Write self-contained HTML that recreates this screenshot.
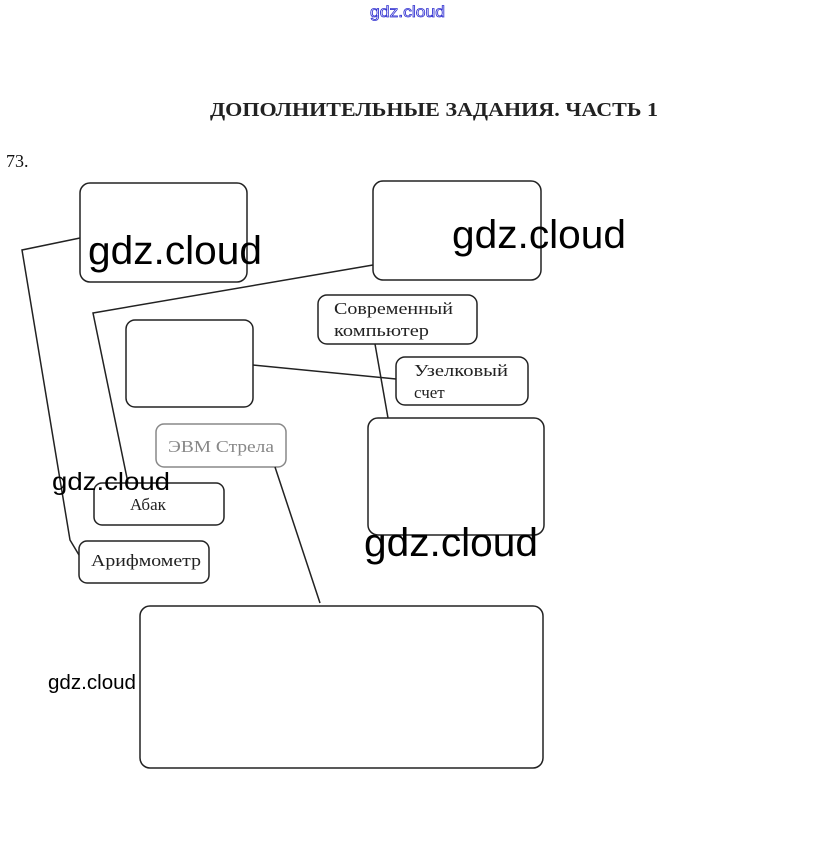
<!DOCTYPE html>
<html><head><meta charset="utf-8"><style>
body{margin:0;background:#fff;width:815px;height:865px;overflow:hidden}
svg{display:block}
</style></head><body>
<svg width="815" height="865" xmlns="http://www.w3.org/2000/svg" font-family="Liberation Serif, serif">
<text x="370" y="17" textLength="75" lengthAdjust="spacingAndGlyphs" font-family="Liberation Sans, sans-serif" font-size="16" fill="none" stroke="#3030d0" stroke-width="0.8">gdz.cloud</text>
<text x="210" y="116" textLength="448" lengthAdjust="spacingAndGlyphs" font-size="20" font-weight="bold" fill="#222">ДОПОЛНИТЕЛЬНЫЕ ЗАДАНИЯ. ЧАСТЬ 1</text>
<text x="6" y="167" font-size="18" fill="#111">73.</text>
<g fill="none" stroke="#222" stroke-width="1.5">
<rect x="80" y="183" width="167" height="99" rx="10"/>
<rect x="373" y="181" width="168" height="99" rx="10"/>
<rect x="318" y="295" width="159" height="49" rx="9"/>
<rect x="126" y="320" width="127" height="87" rx="9"/>
<rect x="396" y="357" width="132" height="48" rx="9"/>
<rect x="156" y="424" width="130" height="43" rx="8" stroke="#888"/>
<rect x="368" y="418" width="176" height="117" rx="10"/>
<rect x="94" y="483" width="130" height="42" rx="8"/>
<rect x="79" y="541" width="130" height="42" rx="8"/>
<rect x="140" y="606" width="403" height="162" rx="10"/>
<polyline points="80,238 22,250 70,540 79,555"/>
<polyline points="373,265 93,313 128,483"/>
<line x1="253" y1="365" x2="396" y2="379"/>
<line x1="375" y1="344" x2="388" y2="418"/>
<line x1="275" y1="467" x2="320" y2="603"/>
</g>
<g font-size="17" fill="#222">
<text x="334" y="314" textLength="119" lengthAdjust="spacingAndGlyphs">Современный</text>
<text x="334" y="336" textLength="95" lengthAdjust="spacingAndGlyphs">компьютер</text>
<text x="414" y="376" textLength="94" lengthAdjust="spacingAndGlyphs">Узелковый</text>
<text x="414" y="398">счет</text>
<text x="168" y="452" fill="#888" textLength="106" lengthAdjust="spacingAndGlyphs">ЭВМ Стрела</text>
<text x="130" y="510">Абак</text>
<text x="91" y="566" textLength="110" lengthAdjust="spacingAndGlyphs">Арифмометр</text>
</g>
<g font-family="Liberation Sans, sans-serif" fill="#000">
<text x="88" y="264" font-size="40" textLength="174" lengthAdjust="spacingAndGlyphs">gdz.cloud</text>
<text x="452" y="248" font-size="40" textLength="174" lengthAdjust="spacingAndGlyphs">gdz.cloud</text>
<text x="364" y="556" font-size="40" textLength="174" lengthAdjust="spacingAndGlyphs">gdz.cloud</text>
<text x="52" y="490" font-size="25" textLength="118" lengthAdjust="spacingAndGlyphs">gdz.cloud</text>
<text x="48" y="689" font-size="20" textLength="88" lengthAdjust="spacingAndGlyphs">gdz.cloud</text>
</g>
</svg>
</body></html>
